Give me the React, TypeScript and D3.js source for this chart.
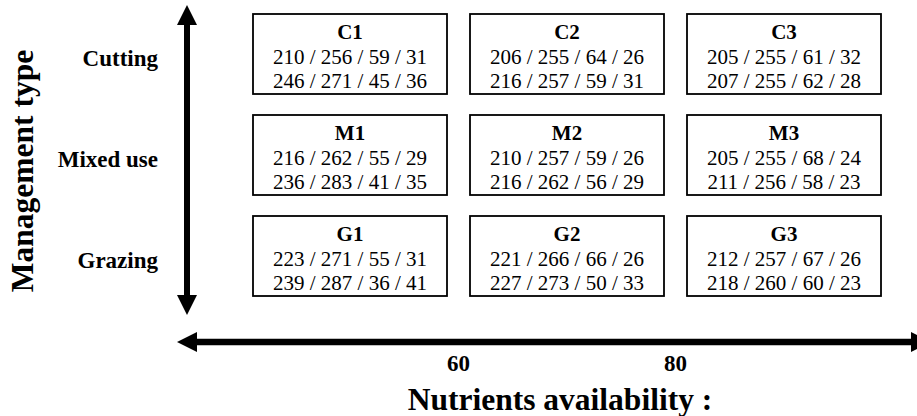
import React from 'react';
import * as d3 from 'd3';

const managementTypes = ['Cutting', 'Mixed use', 'Grazing'];
const managementCodes = ['C', 'M', 'G'];
const nutrientLevels = ['1', '2', '3'];
const nutrientTicks = [60, 80];

// each cell: two rows of four values
const cuttingValues = [
  [[210, 256, 59, 31], [246, 271, 45, 36]],
  [[206, 255, 64, 26], [216, 257, 59, 31]],
  [[205, 255, 61, 32], [207, 255, 62, 28]]
];
const mixedValues = [
  [[216, 262, 55, 29], [236, 283, 41, 35]],
  [[210, 257, 59, 26], [216, 262, 56, 29]],
  [[205, 255, 68, 24], [211, 256, 58, 23]]
];
const grazingValues = [
  [[223, 271, 55, 31], [239, 287, 36, 41]],
  [[221, 266, 66, 26], [227, 273, 50, 33]],
  [[212, 257, 67, 26], [218, 260, 60, 23]]
];

const W = 917;
const H = 416;
const font = 'Liberation Serif';

export default function App() {
  const x = d3.scaleBand()
    .domain(nutrientLevels)
    .range([253, 881])
    .paddingInner(23 / 217)
    .paddingOuter(0);
  const y = d3.scaleBand()
    .domain(managementTypes)
    .range([14, 296])
    .paddingInner(21 / 101)
    .paddingOuter(0);

  const gap = x.step() - x.bandwidth();
  const xNut = d3.scaleLinear()
    .domain([60, 80])
    .range([x('2')! - gap / 2, x('3')! - gap / 2]);

  const allValues = [cuttingValues, mixedValues, grazingValues];

  const cells = managementTypes.flatMap((m, i) =>
    nutrientLevels.map((lv, j) => ({
      row: m,
      col: lv,
      label: managementCodes[i] + lv,
      lines: allValues[i][j].map(v => v.join(' / '))
    }))
  );

  const axisX = 187;
  const axisY = 342;
  const head = 20;
  const vTop = 5;
  const vBottom = 315;
  const hLeft = 177;
  const hRight = 931;

  return (
    <svg width={W} height={H} fontFamily={font}
      style={{display: 'block', position: 'absolute', left: 0, top: 0}}>
      <style>{'text { font-family: "Liberation Serif", "Times New Roman", Times, serif; }'}</style>
      <rect width={W} height={H} fill="#fff"/>

      {/* vertical arrow */}
      <line x1={axisX} x2={axisX} y1={vTop + head - 2} y2={vBottom - head + 2} stroke="#000" strokeWidth={6}/>
      <path d={`M${axisX},${vTop} L${axisX - 10},${vTop + head} L${axisX + 10},${vTop + head} Z`} fill="#000"/>
      <path d={`M${axisX},${vBottom} L${axisX - 10},${vBottom - head} L${axisX + 10},${vBottom - head} Z`} fill="#000"/>

      {/* horizontal arrow */}
      <line x1={hLeft + head - 2} x2={hRight - head + 2} y1={axisY} y2={axisY} stroke="#000" strokeWidth={6.5}/>
      <path d={`M${hLeft},${axisY} L${hLeft + head},${axisY - 10} L${hLeft + head},${axisY + 10} Z`} fill="#000"/>
      <path d={`M${hRight},${axisY} L${hRight - head},${axisY - 10} L${hRight - head},${axisY + 10} Z`} fill="#000"/>

      {/* cells */}
      {cells.map(c => {
        const cx = x(c.col)! + x.bandwidth() / 2;
        const top = y(c.row)!;
        return (
          <g key={c.label}>
            <rect x={x(c.col)} y={top} width={x.bandwidth()} height={y.bandwidth()}
              fill="#fff" stroke="#000" strokeWidth={1.8}/>
            <text x={cx} y={top + 25} textAnchor="middle" fontFamily={font} fontSize={21} fontWeight="bold">{c.label}</text>
            {c.lines.map((t, k) => (
              <text key={k} x={cx} y={top + 50 + k * 23.5} textAnchor="middle" fontFamily={font} fontSize={21}>{t}</text>
            ))}
          </g>
        );
      })}

      {/* row labels */}
      {managementTypes.map(m => (
        <text key={m} x={158} y={y(m)! + y.bandwidth() / 2 + 12} textAnchor="end"
          fontFamily={font} fontSize={23} fontWeight="bold">{m}</text>
      ))}

      {/* nutrient ticks */}
      {nutrientTicks.map(t => (
        <text key={t} x={xNut(t)} y={371} textAnchor="middle" fontFamily={font} fontSize={23} fontWeight="bold">{t}</text>
      ))}

      <text x={560} y={410} textAnchor="middle" fontFamily={font} fontSize={31.5} fontWeight="bold">Nutrients availability :</text>
      <text transform={`translate(33,171) rotate(-90)`} textAnchor="middle" fontFamily={font} fontSize={31.5} fontWeight="bold">
        Management type
      </text>
    </svg>
  );
}
